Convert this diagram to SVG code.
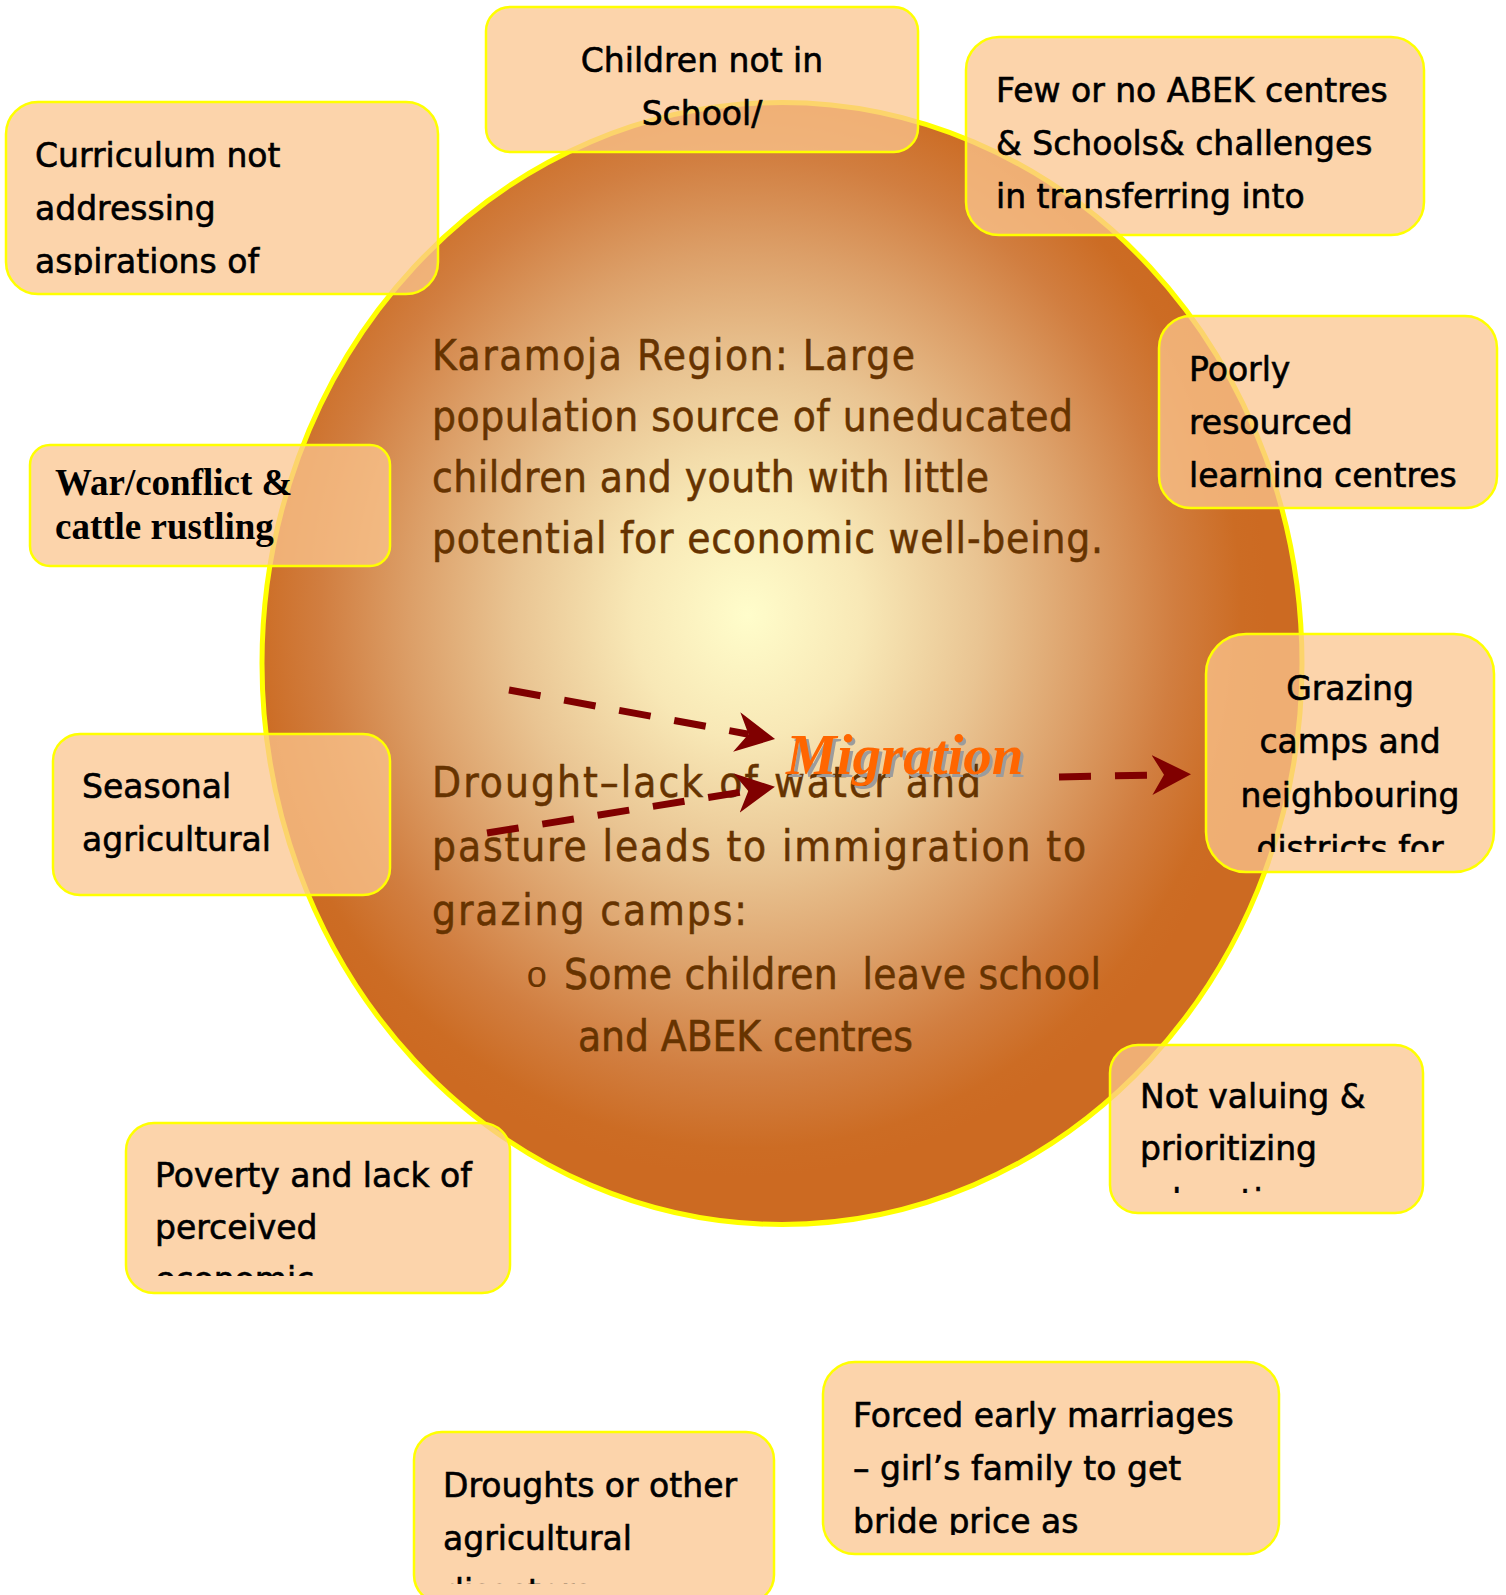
<svg xmlns="http://www.w3.org/2000/svg" width="1506" height="1595" viewBox="0 0 1506 1595">
  <defs>
    <!-- warm glow filling the central region -->
    <radialGradient id="sunGrad" cx="0.467" cy="0.457" r="0.5" fx="0.467" fy="0.457">
      <stop offset="0" stop-color="#FFFDCB"/>
      <stop offset="0.22" stop-color="#F8E8B6"/>
      <stop offset="0.45" stop-color="#E9C492"/>
      <stop offset="0.65" stop-color="#DC9F68"/>
      <stop offset="0.82" stop-color="#D17E40"/>
      <stop offset="0.95" stop-color="#CC6C24"/>
      <stop offset="1" stop-color="#CC6A22"/>
    </radialGradient>
    <!-- notched arrowhead; refX sits at the notch where the shaft ends -->
    <marker id="stealth" markerUnits="userSpaceOnUse" markerWidth="42" markerHeight="42" viewBox="0 -21 42 42" refX="12" refY="0" orient="auto">
      <path d="M0,-20 L39,0 L0,20 L12,0 Z" fill="#800000"/>
    </marker>
    <!-- text areas of the cause boxes (text overflowing is cut off) -->
    <clipPath id="clip-curriculum"><rect x="6" y="102" width="432" height="173"/></clipPath>
    <clipPath id="clip-children"><rect x="486" y="7" width="432" height="126"/></clipPath>
    <clipPath id="clip-abek"><rect x="966" y="37" width="458" height="179"/></clipPath>
    <clipPath id="clip-poorly"><rect x="1159" y="316" width="338" height="172"/></clipPath>
    <clipPath id="clip-war"><rect x="30" y="445" width="360" height="102"/></clipPath>
    <clipPath id="clip-seasonal"><rect x="53" y="734" width="337" height="142"/></clipPath>
    <clipPath id="clip-grazing"><rect x="1206" y="634" width="288" height="218"/></clipPath>
    <clipPath id="clip-poverty"><rect x="126" y="1123" width="384" height="153"/></clipPath>
    <clipPath id="clip-valuing"><rect x="1110" y="1045" width="313" height="148"/></clipPath>
    <clipPath id="clip-droughts"><rect x="414" y="1432" width="360" height="152"/></clipPath>
    <clipPath id="clip-marriage"><rect x="823" y="1362" width="456" height="173"/></clipPath>
  </defs>
  <style>
    .box rect { fill: #FBC68F; fill-opacity: 0.75; stroke: #FFFF00; stroke-width: 2.5; }
    .box text { font-family: "DejaVu Sans", "Liberation Sans", sans-serif; font-size: 33px; fill: #000000; stroke: #000000; stroke-width: 0.6; }
    .box text.serif { font-family: "Liberation Serif", "DejaVu Serif", serif; font-weight: bold; font-size: 37px; stroke: none; }
    .core text { font-family: "DejaVu Sans Condensed", "DejaVu Sans", sans-serif; font-size: 42px; fill: #663300; stroke: #663300; stroke-width: 0.5; }
    .core text.bullet { font-family: "Liberation Mono", "DejaVu Sans Mono", monospace; font-size: 36px; stroke: none; }
    .link { fill: none; stroke: #800000; stroke-width: 7; stroke-dasharray: 32 24; marker-end: url(#stealth); }
    .mig { font-family: "Liberation Serif", "DejaVu Serif", serif; font-weight: bold; font-style: italic; font-size: 57px; }
  </style>

  <rect width="1506" height="1595" fill="#FFFFFF"/>

  <!-- central region -->
  <g id="karamoja" class="core">
    <ellipse cx="782" cy="663.5" rx="520" ry="561" fill="url(#sunGrad)" stroke="#FFFF00" stroke-width="5"/>
    <text x="432" y="370" textLength="483">Karamoja Region: Large</text>
    <text x="432" y="431" textLength="641">population source of uneducated</text>
    <text x="432" y="492" textLength="557">children and youth with little</text>
    <text x="432" y="553" textLength="671">potential for economic well-being.</text>
    <text x="432" y="797" textLength="549">Drought–lack of water and</text>
    <text x="432" y="861" textLength="654">pasture leads to immigration to</text>
    <text x="432" y="925" textLength="315">grazing camps:</text>
    <text class="bullet" x="526" y="987">o</text>
    <text x="564" y="989" textLength="537" xml:space="preserve">Some children  leave school</text>
    <text x="578" y="1051" textLength="335">and ABEK centres</text>
  </g>

  <!-- connectors -->
  <g id="connectors">
    <path class="link" d="M509,690 L748.5,734.2"/>
    <path class="link" d="M487,833 L748.3,791"/>
    <path class="link" d="M1059,777 L1164,774.8"/>
  </g>

  <g id="migration">
    <text class="mig" x="789" y="777" fill="#9C9C9C">Migration</text>
    <text class="mig" x="786" y="774" fill="#FF6600">Migration</text>
  </g>

  <!-- cause boxes -->
  <g id="curriculum" class="box">
    <rect x="6" y="102" width="432" height="192" rx="32"/>
    <g clip-path="url(#clip-curriculum)">
      <text x="35" y="167">Curriculum not</text>
      <text x="35" y="220">addressing</text>
      <text x="35" y="273">aspirations of</text>
    </g>
  </g>

  <g id="children" class="box">
    <rect x="486" y="7" width="432" height="145" rx="24"/>
    <g clip-path="url(#clip-children)" text-anchor="middle">
      <text x="702" y="72">Children not in</text>
      <text x="702" y="125">School/</text>
    </g>
  </g>

  <g id="abek" class="box">
    <rect x="966" y="37" width="458" height="198" rx="33"/>
    <g clip-path="url(#clip-abek)">
      <text x="996" y="102">Few or no ABEK centres</text>
      <text x="996" y="155">&amp; Schools&amp; challenges</text>
      <text x="996" y="208">in transferring into</text>
    </g>
  </g>

  <g id="poorly" class="box">
    <rect x="1159" y="316" width="338" height="192" rx="32"/>
    <g clip-path="url(#clip-poorly)">
      <text x="1189" y="381">Poorly</text>
      <text x="1189" y="434">resourced</text>
      <text x="1189" y="487">learning centres</text>
    </g>
  </g>

  <g id="war" class="box">
    <rect x="30" y="445" width="360" height="121" rx="20"/>
    <g clip-path="url(#clip-war)">
      <text class="serif" x="55" y="495">War/conflict &amp;</text>
      <text class="serif" x="55" y="539">cattle rustling</text>
    </g>
  </g>

  <g id="seasonal" class="box">
    <rect x="53" y="734" width="337" height="161" rx="27"/>
    <g clip-path="url(#clip-seasonal)">
      <text x="82" y="798">Seasonal</text>
      <text x="82" y="851">agricultural</text>
    </g>
  </g>

  <g id="grazing" class="box">
    <rect x="1206" y="634" width="288" height="238" rx="40"/>
    <g clip-path="url(#clip-grazing)" text-anchor="middle">
      <text x="1350" y="700">Grazing</text>
      <text x="1350" y="753">camps and</text>
      <text x="1350" y="807">neighbouring</text>
      <text x="1350" y="860">districts for</text>
    </g>
  </g>

  <g id="poverty" class="box">
    <rect x="126" y="1123" width="384" height="170" rx="28"/>
    <g clip-path="url(#clip-poverty)">
      <text x="155" y="1187">Poverty and lack of</text>
      <text x="155" y="1239">perceived</text>
      <text x="155" y="1291">economic</text>
    </g>
  </g>

  <g id="valuing" class="box">
    <rect x="1110" y="1045" width="313" height="168" rx="28"/>
    <g clip-path="url(#clip-valuing)">
      <text x="1140" y="1108">Not valuing &amp;</text>
      <text x="1140" y="1160">prioritizing</text>
      <text x="1140" y="1213">education</text>
    </g>
  </g>

  <g id="droughts" class="box">
    <rect x="414" y="1432" width="360" height="171" rx="28"/>
    <g clip-path="url(#clip-droughts)">
      <text x="443" y="1497">Droughts or other</text>
      <text x="443" y="1550">agricultural</text>
      <text x="443" y="1603">disasters</text>
    </g>
  </g>

  <g id="marriage" class="box">
    <rect x="823" y="1362" width="456" height="192" rx="32"/>
    <g clip-path="url(#clip-marriage)">
      <text x="853" y="1427">Forced early marriages</text>
      <text x="853" y="1480">– girl’s family to get</text>
      <text x="853" y="1533">bride price as</text>
    </g>
  </g>
</svg>
